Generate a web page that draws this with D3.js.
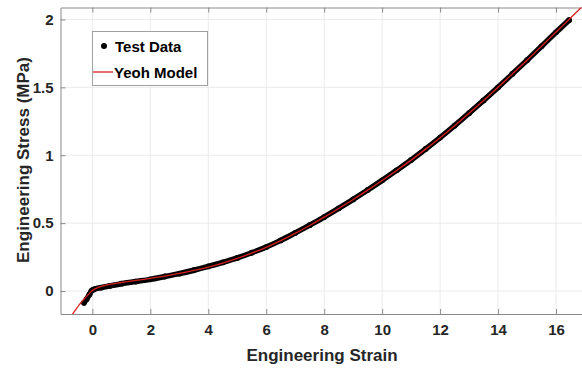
<!DOCTYPE html>
<html>
<head>
<meta charset="utf-8">
<script src="https://cdn.jsdelivr.net/npm/d3@7"></script>
<style>
body { margin: 0; background: #fff; }
text { font-family: "Liberation Sans", Arial, sans-serif; font-weight: bold; }
</style>
</head>
<body>
<script>
// test data
var testStrain = [-0.29, -0.2, -0.1, -0.03, 0.05, 0.3, 0.6, 1, 1.5, 2, 2.5, 3, 3.5, 4, 4.5, 5, 5.5, 6, 6.5, 7, 7.5, 8, 8.5, 9, 9.5, 10, 10.5, 11, 11.5, 12, 12.5, 13, 13.5, 14, 14.5, 15, 15.5, 16, 16.45];
var testStress = [-0.086, -0.06, -0.025, 0.002, 0.012, 0.025, 0.038, 0.054, 0.07, 0.086, 0.107, 0.128, 0.153, 0.181, 0.211, 0.244, 0.282, 0.324, 0.373, 0.428, 0.485, 0.545, 0.609, 0.675, 0.744, 0.815, 0.889, 0.965, 1.046, 1.13, 1.218, 1.31, 1.404, 1.5, 1.6, 1.7, 1.802, 1.905, 1.995];

// Yeoh model fit
var modelStrain = [-0.75, -0.6, -0.45, -0.3, -0.15, 0, 0.25, 0.5, 1, 1.5, 2, 2.5, 3, 3.5, 4, 4.5, 5, 5.5, 6, 6.5, 7, 7.5, 8, 8.5, 9, 9.5, 10, 10.5, 11, 11.5, 12, 12.5, 13, 13.5, 14, 14.5, 15, 15.5, 16, 16.5, 17];
var modelStress = [-0.19, -0.145, -0.1, -0.062, -0.028, 0.004, 0.03, 0.045, 0.063, 0.078, 0.093, 0.11, 0.13, 0.152, 0.177, 0.206, 0.24, 0.279, 0.322, 0.371, 0.425, 0.483, 0.544, 0.608, 0.674, 0.743, 0.814, 0.888, 0.964, 1.045, 1.129, 1.217, 1.309, 1.403, 1.5, 1.6, 1.7, 1.803, 1.907, 2.01, 2.115];

var xTicks = [0, 2, 4, 6, 8, 10, 12, 14, 16];
var yTicks = [0, 0.5, 1, 1.5, 2];

var W = 582, H = 369;
var margin = {left: 60.5, top: 7.5, right: -3, bottom: 55};

var svg = d3.select("body").append("svg")
    .attr("width", W)
    .attr("height", H);

var x = d3.scaleLinear().domain([-1.1, 17]).range([margin.left, W - margin.right]);
var y = d3.scaleLinear().domain([-0.169, 2.088]).range([H - margin.bottom, margin.top]);

var plotW = W - margin.right - margin.left;
var plotH = H - margin.bottom - margin.top;

svg.append("defs").append("clipPath").attr("id", "clip")
    .append("rect")
    .attr("x", margin.left).attr("y", margin.top)
    .attr("width", plotW).attr("height", plotH);

// grid
svg.append("g").selectAll("line.vx")
    .data(xTicks)
    .enter()
    .append("line")
    .attr("x1", function(d) { return x(d); })
    .attr("x2", function(d) { return x(d); })
    .attr("y1", margin.top)
    .attr("y2", H - margin.bottom)
    .attr("stroke", "#ebebeb");

svg.append("g").selectAll("line.hy")
    .data(yTicks)
    .enter()
    .append("line")
    .attr("x1", margin.left)
    .attr("x2", W - margin.right)
    .attr("y1", function(d) { return y(d); })
    .attr("y2", function(d) { return y(d); })
    .attr("stroke", "#ebebeb");

// axes
var axisColor = "#8a8a8a";

var xAxis = svg.append("g")
    .attr("transform", "translate(0," + (H - margin.bottom) + ")")
    .call(d3.axisBottom(x).tickValues(xTicks).tickSizeInner(-5).tickSizeOuter(0).tickPadding(10));

var xTop = svg.append("g")
    .attr("transform", "translate(0," + margin.top + ")")
    .call(d3.axisTop(x).tickValues(xTicks).tickSizeInner(-5).tickSizeOuter(0).tickFormat(""));

var yAxis = svg.append("g")
    .attr("transform", "translate(" + margin.left + ",0)")
    .call(d3.axisLeft(y).tickValues(yTicks).tickSizeInner(-5).tickSizeOuter(0).tickPadding(7).tickFormat(d3.format("")));

[xAxis, xTop, yAxis].forEach(function(g) {
    g.select(".domain").attr("stroke", axisColor);
    g.selectAll(".tick line").attr("stroke", axisColor);
    g.selectAll(".tick text")
        .attr("fill", "#262626")
        .style("font-size", "15px")
        .style("font-family", "Liberation Sans, Arial, sans-serif")
        .style("font-weight", "bold");
});

// data
var plot = svg.append("g").attr("clip-path", "url(#clip)");

var testPts = testStrain.map(function(s, i) { return [s, testStress[i]]; });
var modelPts = modelStrain.map(function(s, i) { return [s, modelStress[i]]; });

var line = d3.line()
    .x(function(d) { return x(d[0]); })
    .y(function(d) { return y(d[1]); })
    .curve(d3.curveMonotoneX);

plot.append("path")
    .datum(testPts)
    .attr("d", line)
    .attr("fill", "none")
    .attr("stroke", "#000")
    .attr("stroke-width", 5.5)
    .attr("stroke-linecap", "round");

plot.selectAll("circle.pt")
    .data(testPts)
    .enter()
    .append("circle")
    .attr("cx", function(d) { return x(d[0]); })
    .attr("cy", function(d) { return y(d[1]); })
    .attr("r", 2.9)
    .attr("fill", "#000");

plot.append("path")
    .datum(modelPts)
    .attr("d", line)
    .attr("fill", "none")
    .attr("stroke", "#d62020")
    .attr("stroke-width", 1.3);

// legend
var leg = svg.append("g");
leg.append("rect")
    .attr("x", 92.5).attr("y", 31.5)
    .attr("width", 115).attr("height", 54)
    .attr("fill", "#fff")
    .attr("stroke", "#a0a0a0");

leg.append("circle")
    .attr("cx", 104).attr("cy", 46)
    .attr("r", 3)
    .attr("fill", "#000");
leg.append("text")
    .attr("x", 115).attr("y", 51.5)
    .style("font-size", "15px")
    .attr("fill", "#000")
    .text("Test Data");

leg.append("line")
    .attr("x1", 93).attr("x2", 113)
    .attr("y1", 72).attr("y2", 72)
    .attr("stroke", "#d62020")
    .attr("stroke-width", 1.3);
leg.append("text")
    .attr("x", 114).attr("y", 77.5)
    .style("font-size", "15px")
    .attr("fill", "#000")
    .text("Yeoh Model");

// axis titles
svg.append("text")
    .attr("x", 322).attr("y", 361)
    .attr("text-anchor", "middle")
    .attr("fill", "#262626")
    .style("font-size", "17px")
    .text("Engineering Strain");

svg.append("text")
    .attr("transform", "translate(29,160) rotate(-90)")
    .attr("text-anchor", "middle")
    .attr("fill", "#262626")
    .style("font-size", "17px")
    .text("Engineering Stress (MPa)");
</script>
</body>
</html>
